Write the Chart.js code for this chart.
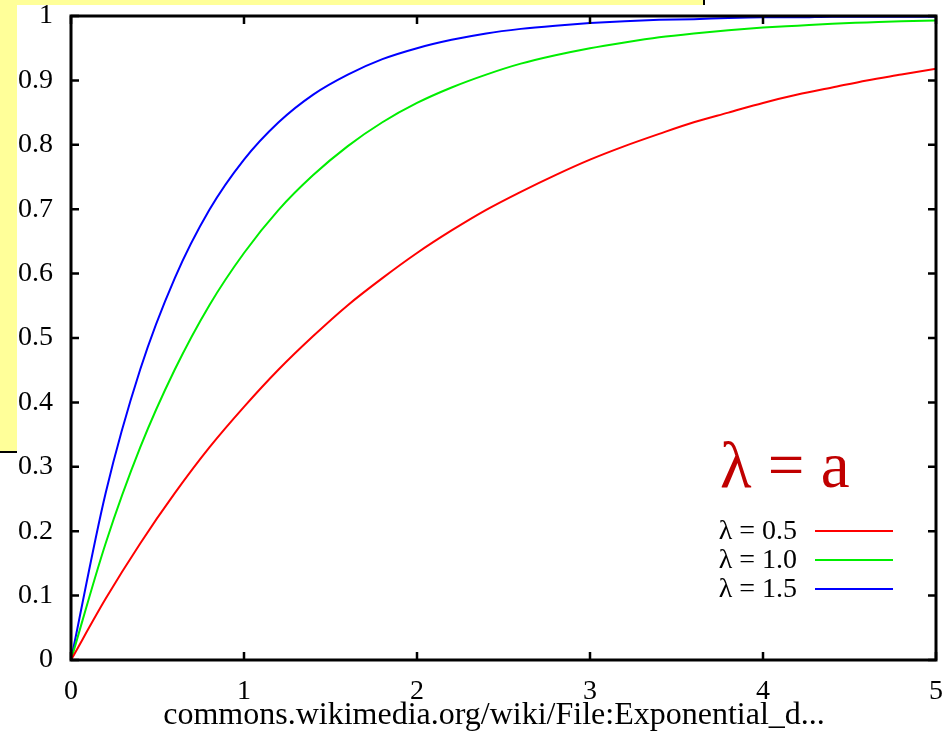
<!DOCTYPE html>
<html>
<head>
<meta charset="utf-8">
<script src="https://cdn.jsdelivr.net/npm/chart.js@4.4.1/dist/chart.umd.min.js"></script>
<style>
  html, body { margin: 0; padding: 0; background: #fff; }
  body { width: 948px; height: 733px; position: relative; overflow: hidden; }
  #note { position: absolute; left: 0; top: 0; width: 703px; height: 451px;
          background: #ffff99; border-right: 2px solid #000; border-bottom: 2px solid #000; }
  #sheet { position: absolute; left: 17px; top: 5px; width: 931px; height: 728px; background: #fff; }
  #source { position: absolute; left: 0; width: 988px; top: 697px; text-align: center;
            font: 32px "Liberation Serif", "Times New Roman", serif; line-height: 1; color: #000; }
</style>
</head>
<body>
<div id="note"></div>
<div id="sheet"><canvas id="cdfChart"></canvas></div>
<div id="source">commons.wikimedia.org/wiki/File:Exponential_d...</div>
<script>
// Values, every 0.2 along x
const xs = [0, 0.2, 0.4, 0.6, 0.8, 1, 1.2, 1.4, 1.6, 1.8, 2, 2.2, 2.4, 2.6, 2.8, 3, 3.2, 3.4, 3.6, 3.8, 4, 4.2, 4.4, 4.6, 4.8, 5];
const lambdaHalf = [0, 0.095, 0.181, 0.259, 0.330, 0.393, 0.451, 0.503, 0.551, 0.593, 0.632, 0.667, 0.699, 0.727, 0.753, 0.777, 0.798, 0.817, 0.835, 0.850, 0.865, 0.878, 0.889, 0.900, 0.909, 0.918];
const lambdaOne = [0, 0.181, 0.330, 0.451, 0.551, 0.632, 0.699, 0.753, 0.798, 0.835, 0.865, 0.889, 0.909, 0.926, 0.939, 0.950, 0.959, 0.967, 0.973, 0.978, 0.982, 0.985, 0.988, 0.990, 0.992, 0.993];
const lambdaOneHalf = [0, 0.259, 0.451, 0.593, 0.699, 0.777, 0.835, 0.878, 0.909, 0.933, 0.950, 0.963, 0.973, 0.980, 0.985, 0.989, 0.992, 0.994, 0.995, 0.997, 0.998, 0.998, 0.999, 0.999, 0.999, 0.999];
const seriesLabels = ['\u03bb = 0.5', '\u03bb = 1.0', '\u03bb = 1.5'];
const xTicks = ['0', '1', '2', '3', '4', '5'];
const yTicks = ['0', '0.1', '0.2', '0.3', '0.4', '0.5', '0.6', '0.7', '0.8', '0.9', '1'];

const serif = '"Liberation Serif", "Times New Roman", serif';

function points(ys) {
  return xs.map((x, i) => ({ x: x, y: ys[i] }));
}

// Frame with inward ticks on all four sides, plus the legend and the big label
const framePlugin = {
  id: 'frame',
  afterDatasetsDraw(chart) {
    const { ctx, chartArea: a, scales } = chart;
    const len = 8;
    ctx.save();
    ctx.strokeStyle = '#000';
    ctx.lineWidth = 3;
    ctx.strokeRect(a.left, a.top, a.right - a.left, a.bottom - a.top);
    ctx.lineWidth = 2.5;
    ctx.beginPath();
    scales.x.ticks.forEach(t => {
      const px = scales.x.getPixelForValue(t.value);
      ctx.moveTo(px, a.bottom); ctx.lineTo(px, a.bottom - len);
      ctx.moveTo(px, a.top); ctx.lineTo(px, a.top + len);
    });
    scales.y.ticks.forEach(t => {
      const py = scales.y.getPixelForValue(t.value);
      ctx.moveTo(a.left, py); ctx.lineTo(a.left + len, py);
      ctx.moveTo(a.right, py); ctx.lineTo(a.right - len, py);
    });
    ctx.stroke();

    // legend: text first, then the line sample
    ctx.font = '28px ' + serif;
    ctx.fillStyle = '#000';
    ctx.textAlign = 'right';
    ctx.textBaseline = 'middle';
    chart.data.datasets.forEach((ds, i) => {
      const y = 526 + i * 29;
      ctx.fillText(ds.label, 780, y + 1);
      ctx.strokeStyle = ds.borderColor;
      ctx.lineWidth = 2;
      ctx.beginPath();
      ctx.moveTo(798, y);
      ctx.lineTo(876, y);
      ctx.stroke();
    });

    ctx.font = '65px ' + serif;
    ctx.fillStyle = '#c00000';
    ctx.textAlign = 'left';
    ctx.textBaseline = 'alphabetic';
    ctx.fillText('\u03bb = a', 703, 482);
    ctx.restore();
  }
};

const cdfChart = new Chart(document.getElementById('cdfChart'), {
  type: 'line',
  data: {
    datasets: [
      { label: seriesLabels[0], data: points(lambdaHalf), borderColor: '#ff0000' },
      { label: seriesLabels[1], data: points(lambdaOne), borderColor: '#00ee00' },
      { label: seriesLabels[2], data: points(lambdaOneHalf), borderColor: '#0000ff' }
    ]
  },
  options: {
    responsive: true,
    maintainAspectRatio: false,
    animation: false,
    layout: { padding: { top: 11, right: 12, left: 0, bottom: 0 } },
    elements: {
      point: { radius: 0 },
      line: { borderWidth: 2, cubicInterpolationMode: 'monotone', fill: false }
    },
    plugins: {
      legend: { display: false },
      tooltip: { enabled: false }
    },
    scales: {
      x: {
        type: 'linear',
        min: 0,
        max: 5,
        afterFit: (scale) => {
          scale.height = 73;
          scale.paddingLeft = 0;
          scale.paddingRight = 0;
        },
        grid: { display: false, drawTicks: false },
        border: { display: false },
        ticks: {
          stepSize: 1,
          padding: 15,
          color: '#000',
          font: { family: serif, size: 28 },
          maxRotation: 0,
          callback: (v, i) => xTicks[i]
        }
      },
      y: {
        min: 0,
        max: 1,
        afterFit: (scale) => {
          scale.width = 54;
          scale.paddingTop = 0;
          scale.paddingBottom = 0;
        },
        grid: { display: false, drawTicks: false },
        border: { display: false },
        ticks: {
          stepSize: 0.1,
          padding: 18,
          color: '#000',
          font: { family: serif, size: 28 },
          callback: (v, i) => yTicks[i]
        }
      }
    }
  },
  plugins: [framePlugin]
});
</script>
</body>
</html>
